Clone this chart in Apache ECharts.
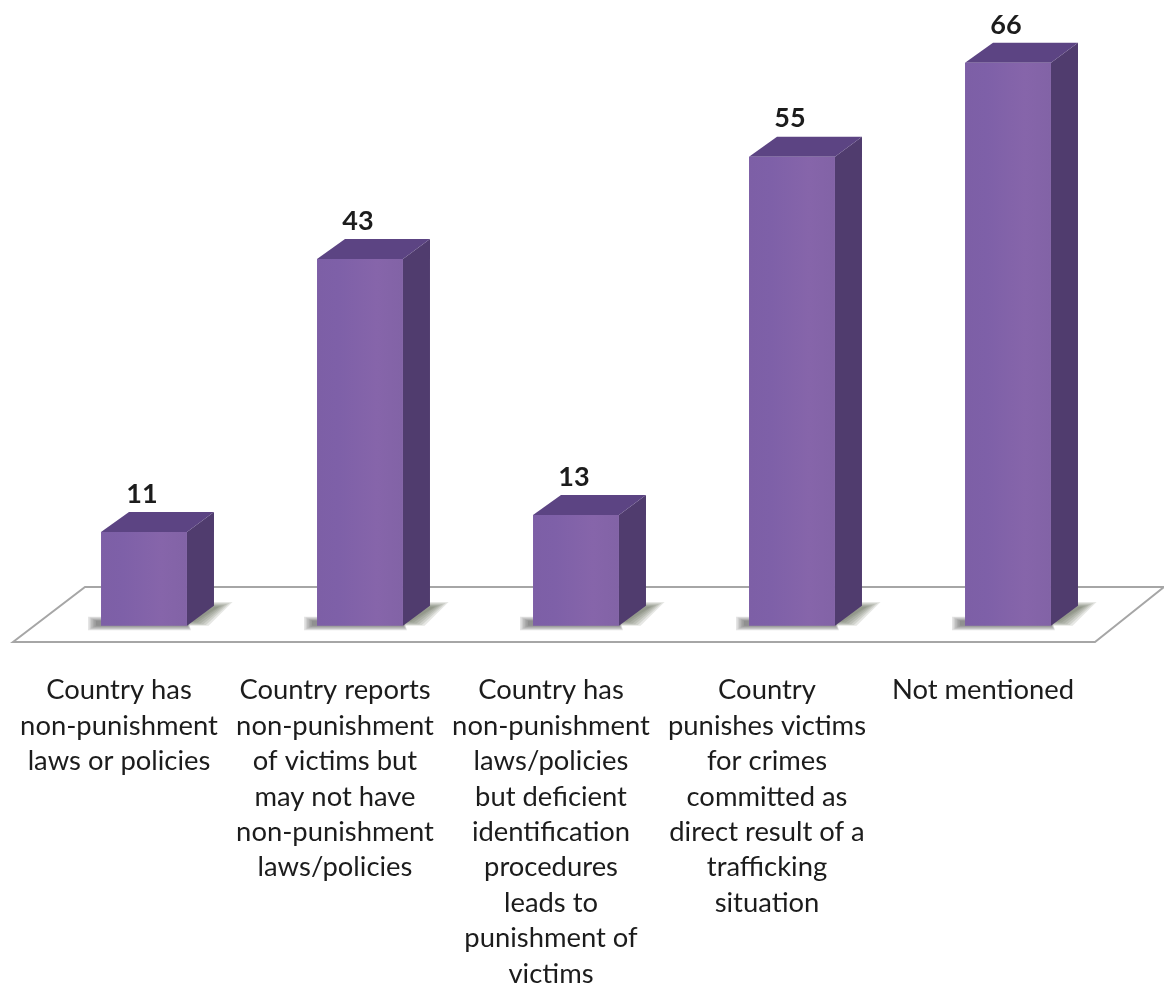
<!DOCTYPE html>
<html><head><meta charset="utf-8">
<style>html,body{margin:0;padding:0;background:#fff}#c{width:1164px;height:985px}</style>
<script src="https://cdn.jsdelivr.net/npm/echarts@6/dist/echarts.min.js"></script>
</head><body><div id="c"></div>
<script>
const categories = [
  "Country has\nnon-punishment\nlaws or policies",
  "Country reports\nnon-punishment\nof victims but\nmay not have\nnon-punishment\nlaws/policies",
  "Country has\nnon-punishment\nlaws/policies\nbut deficient\nidentification\nprocedures\nleads to\npunishment of\nvictims",
  "Country\npunishes victims\nfor crimes\ncommitted as\ndirect result of a\ntrafficking\nsituation",
  "Not mentioned"
];
const values = [11, 43, 13, 55, 66];

const chart = echarts.init(document.getElementById('c'), null, {renderer:'canvas'});
const BAR_SHIFT = 25, DX = 27, DY = -20;

function renderBar(params, api) {
  const i = api.value(0), v = api.value(1);
  const top = api.coord([i, v]), base = api.coord([i, 0]);
  const w = api.size([1, 0])[0] * 0.398;
  const x0 = top[0] + BAR_SHIFT - w / 2, x1 = x0 + w, yt = top[1], yb = base[1];
  const poly = (pts, style) => ({type:'polygon', shape:{points:pts}, style});
  const shadow = [];
  // soft ground shadow built from stacked translucent layers
  for (let k = 5; k >= 0; k--) {
    const e = k * 1.6, a = 0.14;
    shadow.push(poly([[x0-5-e,yb-5-e*0.5],[x1,yb-5-e*0.5],[x1+e*0.5,yb+e*0.55],[x0-5-e,yb+e*0.55]],
      {fill:'rgba(70,70,70,'+a+')'}));
    shadow.push(poly([[x1,yb-4+e*0.5],[x1+DX,yb+DY+1-e*0.6],[x1+DX+5+e*1.7,yb+DY+1-e*0.6],[x1+8+e*1.7,yb-4+e*0.5]],
      {fill:'rgba(75,85,65,'+a+')'}));
  }
  return {type:'group', children:shadow.concat([
    // side face
    poly([[x1,yt],[x1+DX,yt+DY],[x1+DX,yb+DY],[x1,yb]], {fill:'#503c6e'}),
    // top face
    poly([[x0,yt],[x0+DX+1,yt+DY],[x1+DX,yt+DY],[x1,yt]], {fill:'#5c4483'}),
    // front face
    {type:'rect', shape:{x:x0,y:yt,width:w,height:yb-yt}, style:{
      fill:{type:'linear',x:0,y:0,x2:1,y2:0,colorStops:[
        {offset:0,color:'#7d5fa6'},{offset:0.25,color:'#7e60a8'},{offset:0.7,color:'#8665aa'},{offset:1,color:'#8263a6'}]}}},
    // value label
    {type:'text', style:{text:String(v), x:x0+w/2-2, y:yt+DY-18, align:'center', verticalAlign:'middle',
      font:'bold 27px Lato', fill:'#1c1c1c'}}
  ])};
}

chart.setOption({
  animation:false,
  backgroundColor:'#fff',
  graphic:[{type:'polygon', z:0, silent:true,
    shape:{points:[[13,642],[85,587],[1164,587],[1095,642]]},
    style:{fill:'#fff', stroke:'#a6a6a6', lineWidth:2}}],
  grid:{left:11, width:1080, top:28.7, height:597.1, outerBoundsMode:'none'},
  xAxis:{type:'category', data:categories,
    axisLine:{show:false}, axisTick:{show:false},
    axisLabel:{interval:0, margin:47, color:'#1c1c1c', fontFamily:'Lato', fontSize:27.4, lineHeight:35.4, align:'center', hideOverlap:false}},
  yAxis:{type:'value', min:0, max:70, show:false, splitLine:{show:false}},
  series:[{type:'custom', z:5, clip:false, renderItem:renderBar,
    encode:{x:0,y:1}, data:values.map((v,i)=>[i,v])}]
});
</script></body></html>
